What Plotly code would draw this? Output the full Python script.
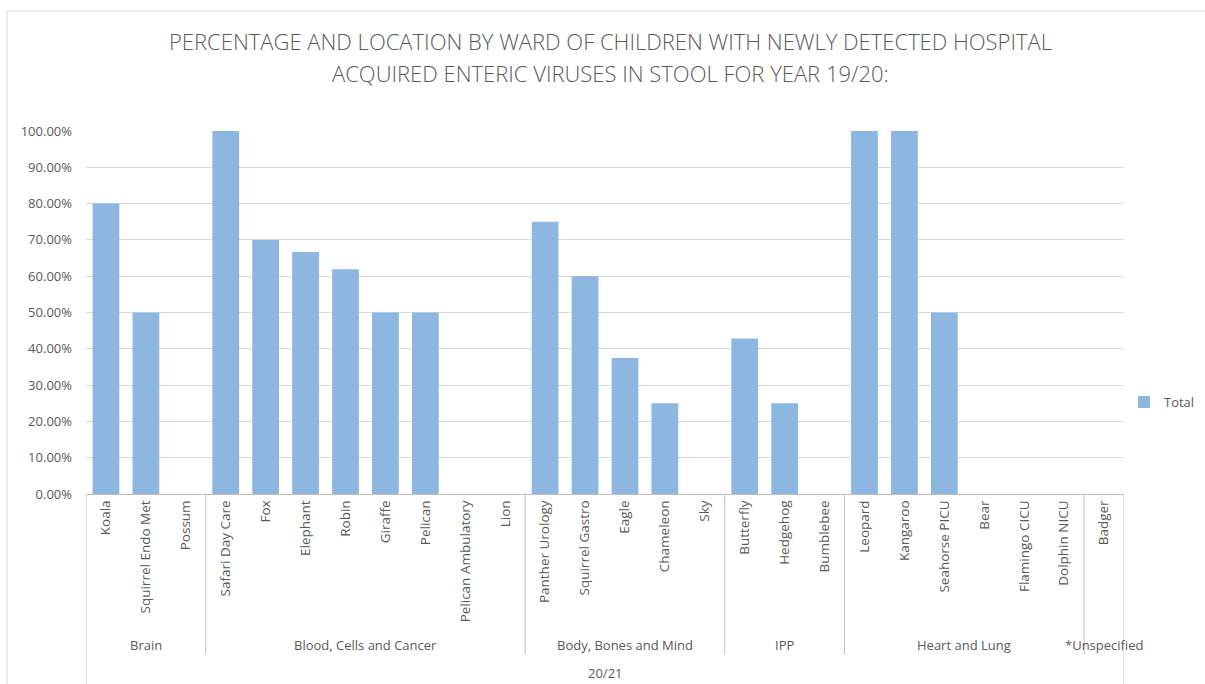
import plotly.graph_objects as go

# Wards, grouped by division (all in year 20/21)
year_label = "20/21"
groups = ["Brain", "Blood, Cells and Cancer", "Body, Bones and Mind", "IPP",
          "Heart and Lung", "*Unspecified"]
group_wards = [
    ["Koala", "Squirrel Endo Met", "Possum"],
    ["Safari Day Care", "Fox", "Elephant", "Robin", "Giraffe", "Pelican",
     "Pelican Ambulatory", "Lion"],
    ["Panther Urology", "Squirrel Gastro", "Eagle", "Chameleon", "Sky"],
    ["Butterfly", "Hedgehog", "Bumblebee"],
    ["Leopard", "Kangaroo", "Seahorse PICU", "Bear", "Flamingo CICU", "Dolphin NICU"],
    ["Badger"],
]
group_values = [
    [0.80, 0.50, 0.0],
    [1.00, 0.70, 0.6667, 0.619, 0.50, 0.50, 0.0, 0.0],
    [0.75, 0.60, 0.375, 0.25, 0.0],
    [0.4286, 0.25, 0.0],
    [1.00, 1.00, 0.50, 0.0, 0.0, 0.0],
    [0.0],
]
y_ticks = [0.0, 0.1, 0.2, 0.3, 0.4, 0.5, 0.6, 0.7, 0.8, 0.9, 1.0]

wards = [w for g in group_wards for w in g]
values = [v for g in group_values for v in g]
n = len(wards)

GREY_TXT = "#595959"
GRID = "#d9d9d9"
AXIS = "#bfbfbf"
FONT = "Open Sans"

fig = go.Figure()
fig.add_trace(go.Bar(
    x=list(range(n)), y=values, name="Total",
    marker=dict(color="#8db6e1", line=dict(width=0)),
    showlegend=True,
))

# Chart layout in pixels
W, H = 1205, 684
L, R, T, B = 86, 1124, 131, 494
ph = B - T


def py(pix):
    """Pixel row -> paper y."""
    return (B - pix) / ph


def px(pix):
    """Pixel column -> paper x."""
    return (pix - L) / (R - L)


shapes = []
annotations = []

# Group divider lines under the category axis
bounds = [-0.5]
for g in group_wards:
    bounds.append(bounds[-1] + len(g))
for i, b in enumerate(bounds):
    outer = i == 0 or i == len(bounds) - 1
    shapes.append(dict(type="line", xref="x", yref="paper", x0=b, x1=b,
                       y0=0, y1=py(684 if outer else 654),
                       line=dict(color=AXIS, width=1)))

# Group labels
for i, g in enumerate(groups):
    mid = (bounds[i] + bounds[i + 1]) / 2
    annotations.append(dict(text=g, xref="x", yref="paper", x=mid, y=py(645),
                            showarrow=False, xanchor="center", yanchor="middle",
                            font=dict(family=FONT, size=13, color=GREY_TXT)))
# Year label spanning all groups
annotations.append(dict(text=year_label, xref="x", yref="paper",
                        x=(bounds[0] + bounds[-1]) / 2, y=py(673),
                        showarrow=False, xanchor="center", yanchor="middle",
                        font=dict(family=FONT, size=13, color=GREY_TXT)))

# Title (two centred lines)
title_lines = ["PERCENTAGE AND LOCATION BY WARD OF CHILDREN WITH NEWLY DETECTED HOSPITAL",
               "ACQUIRED ENTERIC VIRUSES IN STOOL FOR YEAR 19/20:"]
for line, yy in zip(title_lines, [41, 73]):
    annotations.append(dict(text=line, xref="paper", yref="paper",
                            x=px(610), y=py(yy), showarrow=False,
                            xanchor="center", yanchor="middle",
                            font=dict(family=FONT, size=22, weight=300,
                                      color=GREY_TXT)))

# Chart frame
shapes.append(dict(type="rect", xref="paper", yref="paper",
                   x0=px(7), x1=px(1220), y0=py(11), y1=py(720),
                   line=dict(color=GRID, width=1), layer="below"))

fig.update_layout(
    width=W, height=H,
    margin=dict(l=L, r=W - R, t=T, b=H - B, autoexpand=False),
    paper_bgcolor="white", plot_bgcolor="white",
    bargap=0.33,
    font=dict(family=FONT, size=13, color=GREY_TXT),
    xaxis=dict(
        range=[-0.5, n - 0.5],
        tickmode="array", tickvals=list(range(n)), ticktext=wards,
        tickangle=-90, ticks="", showgrid=False, zeroline=False,
        showline=True, linecolor=AXIS, linewidth=1,
        tickfont=dict(family=FONT, size=13.5, color=GREY_TXT),
        fixedrange=True,
    ),
    yaxis=dict(
        range=[0, 1], tickmode="array", tickvals=y_ticks, tickformat=".2%",
        showgrid=True, gridcolor=GRID, gridwidth=1, zeroline=False,
        showline=False, ticks="", ticklabelstandoff=13,
        tickfont=dict(family=FONT, size=13, color=GREY_TXT),
    ),
    legend=dict(x=px(1124), y=py(402), xanchor="left", yanchor="middle",
                font=dict(family=FONT, size=13, color=GREY_TXT),
                bgcolor="rgba(0,0,0,0)", itemwidth=30),
    shapes=shapes,
    annotations=annotations,
)

fig.write_html("out.html")
